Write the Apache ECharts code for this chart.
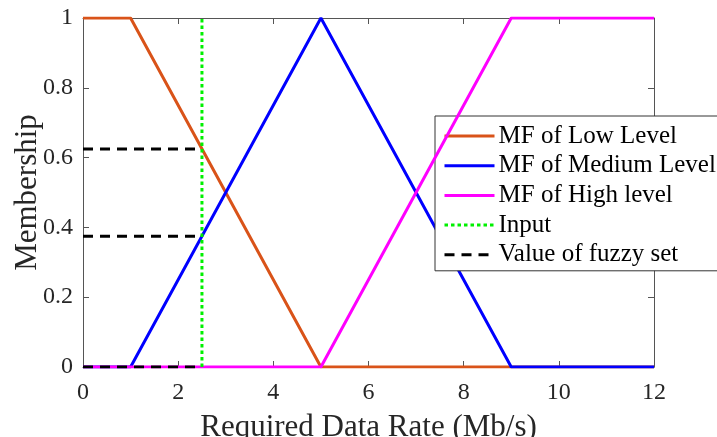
<!DOCTYPE html>
<html>
<head>
<meta charset="utf-8">
<script src="https://cdn.jsdelivr.net/npm/echarts@6/dist/echarts.min.js"></script>
<style>
  html, body { margin: 0; padding: 0; background: #fff; }
  #chart { width: 717px; height: 437px; }
</style>
</head>
<body>
<div id="chart"></div>
<script>
// Membership functions of the required data rate (Mb/s)
const lowX = [0, 1, 5, 12];
const lowY = [1, 1, 0, 0];
const mediumX = [0, 1, 5, 9, 12];
const mediumY = [0, 0, 1, 0, 0];
const highX = [0, 5, 9, 12];
const highY = [0, 0, 1, 1];

// Crisp input and the membership degrees it produces
const inputX = [2.5, 2.5];
const inputY = [0, 1];
const fuzzyLevels = [0.625, 0.375, 0];
const fuzzyX = [0, 2.5];

const seriesNames = ['MF of Low Level', 'MF of Medium Level', 'MF of High level', 'Input', 'Value of fuzzy set'];

const xTicks = [0, 2, 4, 6, 8, 10, 12];
const yTicks = [0, 0.2, 0.4, 0.6, 0.8, 1];

const zip = (xs, ys) => xs.map((x, i) => [x, ys[i]]);

const FONT = '"Liberation Serif", "Times New Roman", serif';
const TEXT = '#262626';
const AXIS = '#555555';

const lineSeries = (name, data, color, type, z) => ({
  name, type: 'line', data, symbol: 'none', silent: true, animation: false, z,
  itemStyle: { color },
  lineStyle: { color, width: 3, type }
});

const series = [
  lineSeries(seriesNames[0], zip(lowX, lowY), '#D95319', 'solid', 2),
  lineSeries(seriesNames[1], zip(mediumX, mediumY), '#0000FF', 'solid', 3),
  lineSeries(seriesNames[2], zip(highX, highY), '#FF00FF', 'solid', 4),
  lineSeries(seriesNames[3], zip(inputX, inputY), '#00F000', [3.5, 3], 5),
];
fuzzyLevels.forEach(v => {
  series.push(lineSeries(seriesNames[4], zip(fuzzyX, fuzzyX.map(() => v)), '#000000', [10, 7], 6));
});

const axisCommon = {
  type: 'value',
  axisLine: { show: true, onZero: false, lineStyle: { color: AXIS, width: 1 } },
  axisTick: { show: true, inside: true, length: 6, lineStyle: { color: AXIS, width: 1 } },
  splitLine: { show: false }
};

const chart = echarts.init(document.getElementById('chart'), null, { renderer: 'canvas' });
chart.setOption({
  animation: false,
  backgroundColor: '#ffffff',
  grid: { left: 83, right: 63, top: 18, bottom: 70, containLabel: false, outerBoundsMode: 'none' },
  xAxis: [
    Object.assign({}, axisCommon, {
      min: xTicks[0], max: xTicks[xTicks.length - 1], interval: xTicks[1] - xTicks[0],
      position: 'bottom',
      name: 'Required Data Rate (Mb/s)', nameLocation: 'middle', nameGap: 45,
      nameMoveOverlap: false,
      nameTextStyle: { fontFamily: FONT, fontSize: 31, color: TEXT },
      axisLabel: { fontFamily: FONT, fontSize: 24, color: TEXT, margin: 14 }
    }),
    Object.assign({}, axisCommon, {
      min: xTicks[0], max: xTicks[xTicks.length - 1], interval: xTicks[1] - xTicks[0],
      position: 'top', axisLabel: { show: false }
    })
  ],
  yAxis: [
    Object.assign({}, axisCommon, {
      min: yTicks[0], max: yTicks[yTicks.length - 1], interval: 0.2,
      position: 'left',
      name: 'Membership', nameLocation: 'middle', nameGap: 40,
      nameMoveOverlap: false,
      nameTextStyle: { fontFamily: FONT, fontSize: 31, color: TEXT },
      axisLabel: {
        fontFamily: FONT, fontSize: 24, color: TEXT, margin: 10,
        formatter: v => String(Math.round(v * 10) / 10)
      }
    }),
    Object.assign({}, axisCommon, {
      min: yTicks[0], max: yTicks[yTicks.length - 1], interval: 0.2,
      position: 'right', axisLabel: { show: false }
    })
  ],
  legend: {
    data: seriesNames,
    orient: 'vertical',
    left: 435, top: 116,
    padding: [6, 3, 2, 8],
    itemWidth: 50, itemHeight: 14, itemGap: 1.7,
    borderColor: '#333333', borderWidth: 1,
    backgroundColor: '#ffffff',
    selectedMode: false,
    itemStyle: { opacity: 0, borderWidth: 0 },
    lineStyle: { width: 3 },
    textStyle: { fontFamily: FONT, fontSize: 25, lineHeight: 28, color: '#000000', padding: [0, 0, 0, -1] }
  },
  series
});
</script>
</body>
</html>
